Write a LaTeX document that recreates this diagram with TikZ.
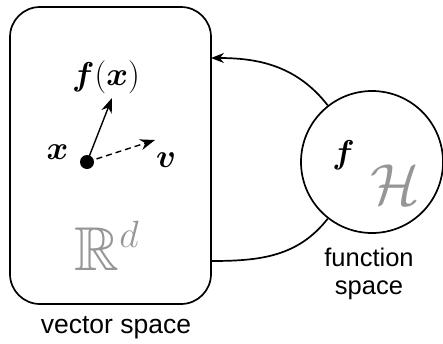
\RequirePackage{fix-cm}
\documentclass[tikz,border=0pt]{standalone}
\usepackage{amsmath,amssymb,amsbsy}
\usepackage{fontspec}
\setmainfont{Liberation Sans}
\usetikzlibrary{arrows.meta}
\definecolor{lightgrey}{RGB}{150,150,150}
\tikzset{
  frame/.style={draw, line width=1.7pt},
  conn/.style={line width=1.7pt},
  vec/.style={line width=1.4pt, -{Stealth[length=15pt,width=11pt]}},
  mathlbl/.style={inner sep=0pt, font=\fontsize{33}{38}\selectfont},
  caption/.style={inner sep=0pt, font=\fontsize{25.5}{28}\selectfont, align=center},
}
\begin{document}
\begin{tikzpicture}[x=1pt,y=-1pt]
\useasboundingbox (0,0) rectangle (443,343);
% vector space box
\node[frame, rounded corners=30pt, minimum width=201pt, minimum height=297pt, inner sep=0pt] (box) at (110.5,155.5) {};
% function space circle
\node[frame, circle, minimum size=142pt, inner sep=0pt] (hs) at (372,162) {};
% labels inside box
\node[mathlbl] (fx) at (106,77.5) {$\boldsymbol{f}(\boldsymbol{x})$};
\node[mathlbl] (xl) at (57.5,152.5) {$\boldsymbol{x}$};
\node[mathlbl] (vl) at (166,160) {$\boldsymbol{v}$};
\fill (87,162) circle (7pt) coordinate (pt);
\coordinate (fxtip) at (112,98);
\coordinate (vtip) at (155,140);
\draw[vec] (pt) -- (fxtip);
\draw[vec, dashed, dash pattern=on 6pt off 4pt] (pt) -- (vtip);
\node[inner sep=0pt, text=lightgrey] (rd) at (107,246) {\fontsize{62}{62}\selectfont$\mathbb{R}^{\mbox{\fontsize{38}{38}\selectfont$d$}}$};
% labels in circle
\node[mathlbl] (fl) at (343.5,155) {$\boldsymbol{f}$};
\node[inner sep=0pt, text=lightgrey] (hl) at (395,185) {\fontsize{58}{58}\selectfont$\mathcal{H}$};
% captions
\node[caption, font=\fontsize{26.5}{28}\selectfont] (vs) at (116,328) {vector space};
\node[caption] (fs) at (369,274) {function\\space};
% connectors
\coordinate (topend) at (211,58);
\coordinate (botend) at (211,261);
\draw[conn, -{Stealth[length=13pt,width=10pt]}] (hs.128) to[out=128,in=0] (topend);
\draw[conn] (hs.232) to[out=232,in=0] (botend);
\end{tikzpicture}
\end{document}
